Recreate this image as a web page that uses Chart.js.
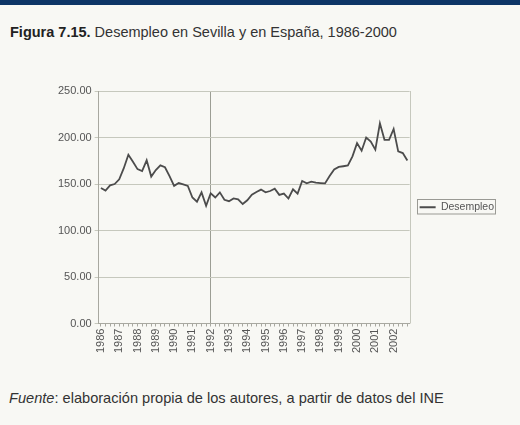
<!DOCTYPE html>
<html>
<head>
<meta charset="utf-8">
<script src="https://cdn.jsdelivr.net/npm/chart.js@4.4.0/dist/chart.umd.min.js"></script>
<style>
  body { margin: 0; width: 520px; height: 425px; background: #f8f8f4; position: relative; overflow: hidden;
         font-family: "Liberation Sans", Arial, sans-serif; color: #333; }
  #band { position: absolute; left: 0; top: 0; width: 520px; height: 5px; background: #0d3566; }
  #titulo { position: absolute; left: 10px; top: 24px; font-size: 14.5px; white-space: nowrap; }
  #titulo b { color: #222; }
  #wrap { position: absolute; left: 0; top: 72px; width: 520px; height: 300px; }
  #fuente { position: absolute; left: 9px; top: 390px; font-size: 14.6px; white-space: nowrap; }
</style>
</head>
<body>
<div id="band"></div>
<div id="titulo"><b>Figura 7.15.</b> Desempleo en Sevilla y en España, 1986-2000</div>
<div id="wrap"><canvas id="grafico"></canvas></div>
<div id="fuente"><i>Fuente</i>: elaboración propia de los autores, a partir de datos del INE</div>
<script>
// años del eje (cuatro trimestres por año)
var years = [1986, 1987, 1988, 1989, 1990, 1991, 1992, 1993, 1994, 1995, 1996, 1997, 1998, 1999, 2000, 2001, 2002];
var quarters = ['I', 'II', 'III', 'IV'];

// desempleo trimestral
var desempleo = [
  145.7, 143.0, 148.5, 150.0, 155.0, 167.0, 181.5, 174.0,
  166.0, 164.0, 175.5, 158.0, 165.0, 170.0, 168.0, 158.5,
  148.0, 151.0, 149.5, 148.0, 135.5, 131.0, 141.0, 126.5,
  140.0, 135.5, 141.0, 133.0, 131.5, 134.5, 133.5, 128.5,
  132.5, 138.5, 141.5, 144.0, 141.0, 142.5, 145.0, 138.3,
  139.7, 134.4, 144.3, 139.7, 153.2, 150.7, 152.5, 151.4,
  151.0, 150.7, 158.5, 165.6, 168.4, 169.1, 169.9, 179.8,
  194.0, 185.8, 200.0, 195.7, 186.9, 215.2, 197.5, 197.5,
  209.2, 185.1, 183.3, 175.2
];

var yTicks = [0, 50, 100, 150, 200, 250];
var markYear = 1992;

var labels = [];
years.forEach(function (y) {
  quarters.forEach(function (q) { labels.push(y + '-' + q); });
});

var gridColor = '#c6c8bd';

// marco del área de trazado y recuadro de la leyenda
var marco = {
  id: 'marco',
  afterDraw: function (chart) {
    var ctx = chart.ctx, a = chart.chartArea;
    ctx.save();
    ctx.strokeStyle = gridColor;
    ctx.lineWidth = 1;
    ctx.beginPath();
    ctx.moveTo(Math.round(a.right) + 0.5, a.top);
    ctx.lineTo(Math.round(a.right) + 0.5, a.bottom);
    ctx.stroke();
    var hb = chart.legend.legendHitBoxes[0];
    if (hb) {
      ctx.strokeStyle = '#9a9a94';
      ctx.strokeRect(Math.round(hb.left) - 2.5, Math.round(hb.top) - 2.5, Math.round(hb.width) + 4, hb.height + 4);
    }
    ctx.restore();
  }
};

var chrt = document.getElementById('grafico').getContext('2d');
var chartId = new Chart(chrt, {
  type: 'line',
  data: {
    labels: labels,
    datasets: [{
      label: 'Desempleo',
      data: desempleo,
      borderColor: '#4c4c4c',
      backgroundColor: '#4c4c4c',
      borderWidth: 1.8,
      pointRadius: 0,
      pointStyle: 'line',
      tension: 0
    }]
  },
  options: {
    responsive: true,
    maintainAspectRatio: false,
    animation: false,
    layout: { padding: { left: 55, right: 16, top: 19, bottom: 17 } },
    plugins: {
      legend: {
        position: 'right',
        fullSize: false,
        labels: {
          usePointStyle: true,
          pointStyleWidth: 16,
          boxHeight: 10,
          padding: 10,
          color: '#555',
          font: { family: '"Liberation Sans", Arial, sans-serif', size: 10.5 }
        }
      },
      tooltip: { enabled: false }
    },
    scales: {
      x: {
        offset: true,
        grid: {
          offset: false,
          drawOnChartArea: true,
          color: function (c) {
            return (c.tick && c.tick.label === String(markYear)) ? '#9c9e94' : 'rgba(0,0,0,0)';
          },
          tickColor: '#a8a8a0',
          tickLength: 3
        },
        border: { color: '#a8a8a0' },
        ticks: {
          autoSkip: false,
          maxRotation: 90,
          minRotation: 90,
          padding: 2,
          color: '#555',
          font: { family: '"Liberation Sans", Arial, sans-serif', size: 11 },
          callback: function (v, i) {
            return i % 4 === 0 ? String(years[i / 4]) : '';
          }
        }
      },
      y: {
        min: 0,
        max: 250,
        afterBuildTicks: function (axis) {
          axis.ticks = yTicks.map(function (v) { return { value: v }; });
        },
        grid: { color: gridColor, tickLength: 4, tickColor: gridColor },
        border: { color: '#a8a8a0' },
        ticks: {
          padding: 3,
          color: '#555',
          font: { family: '"Liberation Sans", Arial, sans-serif', size: 11 },
          callback: function (v) { return Number(v).toFixed(2); }
        }
      }
    }
  },
  plugins: [marco]
});
</script>
</body>
</html>
